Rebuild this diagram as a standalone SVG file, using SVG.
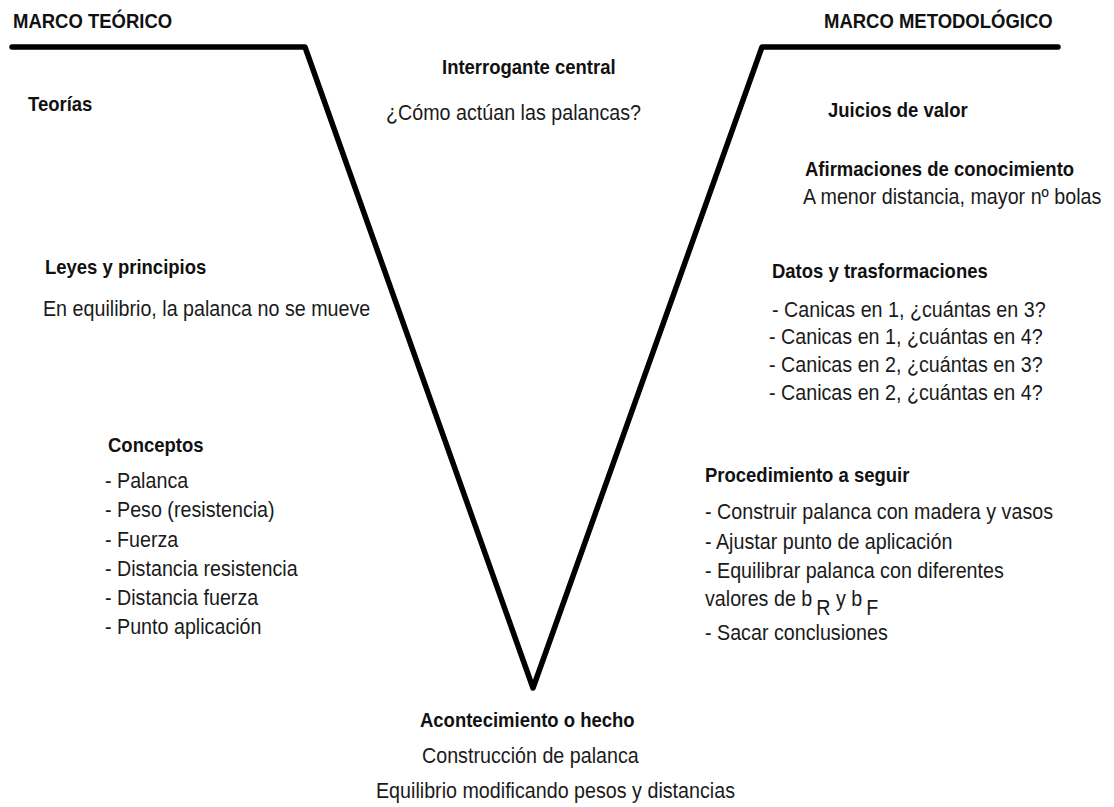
<svg xmlns="http://www.w3.org/2000/svg" width="1114" height="807" viewBox="0 0 1114 807">
<style>
.h{font-family:"Liberation Sans",Arial,sans-serif;font-weight:bold;font-size:18.5px;fill:#111}
.t{font-family:"Liberation Sans",Arial,sans-serif;font-size:19.7px;fill:#1a1a1a}
.h,.t{transform-box:fill-box;transform-origin:0 100%;transform:scaleY(1.12)}
.v{fill:none;stroke:#000;stroke-width:5.5;stroke-linejoin:round;stroke-linecap:round}
</style>
<rect width="1114" height="807" fill="#fff"/>
<g id="connectors">
<path class="v" d="M12,47 L305,47 L533,688 L762,47 L1058,47"/>
</g>
<g id="marco-teorico"><text class="h" x="13" y="28">MARCO TEÓRICO</text></g>
<g id="marco-metodologico"><text class="h" x="824" y="28">MARCO METODOLÓGICO</text></g>
<g id="teorias"><text class="h" x="28" y="111">Teorías</text></g>
<g id="interrogante">
<text class="h" x="442" y="74">Interrogante central</text>
<text class="t" x="386" y="120">¿Cómo actúan las palancas?</text>
</g>
<g id="juicios"><text class="h" x="828" y="117">Juicios de valor</text></g>
<g id="afirmaciones">
<text class="h" x="805" y="176">Afirmaciones de conocimiento</text>
<text class="t" x="803" y="204">A menor distancia, mayor nº bolas</text>
</g>
<g id="leyes">
<text class="h" x="45" y="274">Leyes y principios</text>
<text class="t" x="43" y="316">En equilibrio, la palanca no se mueve</text>
</g>
<g id="datos">
<text class="h" x="772" y="278">Datos y trasformaciones</text>
<text class="t" x="772" y="317">- Canicas en 1, ¿cuántas en 3?</text>
<text class="t" x="769" y="344">- Canicas en 1, ¿cuántas en 4?</text>
<text class="t" x="769" y="372">- Canicas en 2, ¿cuántas en 3?</text>
<text class="t" x="769" y="400">- Canicas en 2, ¿cuántas en 4?</text>
</g>
<g id="conceptos">
<text class="h" x="108" y="452">Conceptos</text>
<text class="t" x="105" y="488">- Palanca</text>
<text class="t" x="105" y="517">- Peso (resistencia)</text>
<text class="t" x="105" y="547">- Fuerza</text>
<text class="t" x="105" y="576">- Distancia resistencia</text>
<text class="t" x="105" y="605">- Distancia fuerza</text>
<text class="t" x="105" y="634">- Punto aplicación</text>
</g>
<g id="procedimiento">
<text class="h" x="705" y="482">Procedimiento a seguir</text>
<text class="t" x="705" y="519">- Construir palanca con madera y vasos</text>
<text class="t" x="705" y="549">- Ajustar punto de aplicación</text>
<text class="t" x="705" y="578">- Equilibrar palanca con diferentes</text>
<text class="t" x="705" y="607">valores de b<tspan dx="4" dy="8">R</tspan><tspan dy="-8"> y b</tspan><tspan dx="4" dy="8">F</tspan></text>
<text class="t" x="705" y="640">- Sacar conclusiones</text>
</g>
<g id="acontecimiento">
<text class="h" x="420" y="727">Acontecimiento o hecho</text>
<text class="t" x="422" y="763">Construcción de palanca</text>
<text class="t" x="376" y="798">Equilibrio modificando pesos y distancias</text>
</g>
</svg>
